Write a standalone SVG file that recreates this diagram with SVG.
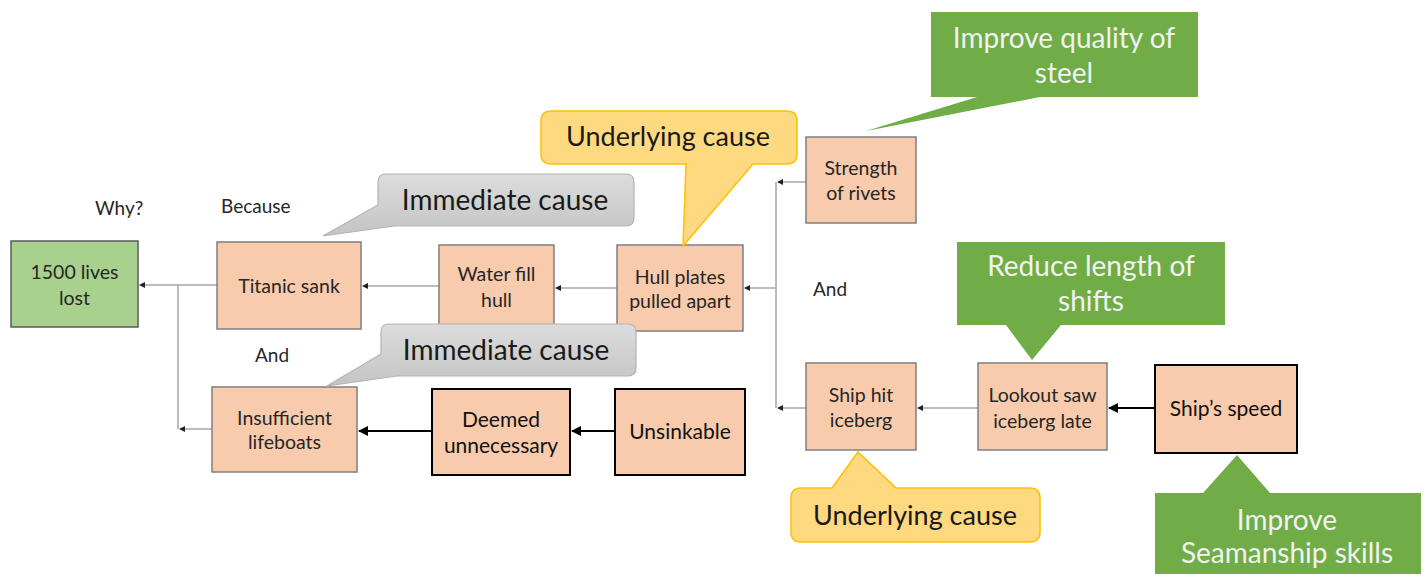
<svg xmlns="http://www.w3.org/2000/svg" width="1427" height="574" viewBox="0 0 1427 574">
<defs>
<style>
text{font-family:Lato,"Open Sans","Liberation Sans",sans-serif;text-anchor:middle;font-weight:normal}
.node{fill:#f8cbad;stroke:#7f7f7f;stroke-width:1.5}
.nodeb{fill:#f8cbad;stroke:#000;stroke-width:2}
.goal{fill:#a9d18e;stroke:#595959;stroke-width:1.5}
.nt{font-size:19.5px;fill:#262626}
.bt{font-size:21px;fill:#111}
.lbl{font-size:19px;fill:#262626;text-anchor:start}
.gc{fill:url(#gg);stroke:#b3b3b3;stroke-width:1.2}
.yc{fill:#ffd97f;stroke:#ffc000;stroke-width:1.5}
.grc{fill:#70ad47}
.ct{font-size:28px;fill:#1a1a1a}
.yt{font-size:27px;fill:#1a1a1a}
.wt{font-size:28px;fill:#f2f2f2}
.cg{fill:none;stroke:#a6a6a6;stroke-width:1.5}
.cb{fill:none;stroke:#000;stroke-width:2}
</style>
<linearGradient id="gg" x1="0" y1="0" x2="0" y2="1">
<stop offset="0" stop-color="#dcdcdc"/><stop offset="1" stop-color="#c4c4c4"/>
</linearGradient>
<marker id="ag" markerWidth="6" markerHeight="6" refX="5" refY="3" orient="auto" markerUnits="userSpaceOnUse">
<path d="M0,0 L6,3 L0,6 Z" fill="#222"/>
</marker>
<marker id="ab" markerWidth="10" markerHeight="10" refX="9" refY="5" orient="auto" markerUnits="userSpaceOnUse">
<path d="M0,0 L10,5 L0,10 Z" fill="#000"/>
</marker>
</defs>
<rect width="1427" height="574" fill="#fff"/>

<g id="connectors">
<path class="cg" d="M217,285 H140" marker-end="url(#ag)"/>
<path class="cg" d="M178,285 V429"/>
<path class="cg" d="M212,429 H180" marker-end="url(#ag)"/>
<path class="cg" d="M439,286 H363" marker-end="url(#ag)"/>
<path class="cg" d="M617,288 H556" marker-end="url(#ag)"/>
<path class="cg" d="M776,182 V408"/>
<path class="cg" d="M806,182 H778" marker-end="url(#ag)"/>
<path class="cg" d="M806,408 H778" marker-end="url(#ag)"/>
<path class="cg" d="M776,288 H745" marker-end="url(#ag)"/>
<path class="cg" d="M978,408 H918" marker-end="url(#ag)"/>
<path class="cb" d="M1155,408 H1109" marker-end="url(#ab)"/>
<path class="cb" d="M432,431 H359" marker-end="url(#ab)"/>
<path class="cb" d="M615,431 H572" marker-end="url(#ab)"/>
</g>

<g id="labels">
<text class="lbl" x="95" y="215">Why?</text>
<text class="lbl" x="221" y="213">Because</text>
<text class="lbl" x="255" y="362">And</text>
<text class="lbl" x="813" y="296">And</text>
</g>

<g id="n-lives"><rect class="goal" x="11" y="241" width="127" height="86"/>
<text class="nt" x="74.5" y="279">1500 lives</text><text class="nt" x="74.5" y="305">lost</text></g>
<g id="n-titanic"><rect class="node" x="217" y="242" width="144" height="87"/>
<text class="nt" x="289" y="293">Titanic sank</text></g>
<g id="n-water"><rect class="node" x="439" y="245" width="115" height="83"/>
<text class="nt" x="496.5" y="281">Water fill</text><text class="nt" x="496.5" y="307">hull</text></g>
<g id="n-hull"><rect class="node" x="617" y="245" width="126" height="86"/>
<text class="nt" x="680" y="284">Hull plates</text><text class="nt" x="680" y="308">pulled apart</text></g>
<g id="n-rivets"><rect class="node" x="806" y="137" width="110" height="86"/>
<text class="nt" x="861" y="175">Strength</text><text class="nt" x="861" y="200">of rivets</text></g>
<g id="n-iceberg"><rect class="node" x="806" y="363" width="110" height="87"/>
<text class="nt" x="861" y="402">Ship hit</text><text class="nt" x="861" y="427">iceberg</text></g>
<g id="n-lookout"><rect class="node" x="978" y="363" width="129" height="87"/>
<text class="nt" x="1042.5" y="402">Lookout saw</text><text class="nt" x="1042.5" y="428">iceberg late</text></g>
<g id="n-speed"><rect class="nodeb" x="1155" y="365" width="142" height="88"/>
<text class="bt" x="1226" y="416">Ship’s speed</text></g>
<g id="n-lifeboats"><rect class="node" x="212" y="387" width="145" height="85"/>
<text class="nt" x="284.5" y="425">Insufficient</text><text class="nt" x="284.5" y="449">lifeboats</text></g>
<g id="n-deemed"><rect class="nodeb" x="432" y="389" width="138" height="86"/>
<text class="bt" x="501" y="427">Deemed</text><text class="bt" x="501" y="453">unnecessary</text></g>
<g id="n-unsinkable"><rect class="nodeb" x="615" y="389" width="130" height="86"/>
<text class="bt" x="680" y="439">Unsinkable</text></g>

<g id="c-immediate1"><path class="gc" d="M386,174 H626 Q634,174 634,182 V218 Q634,226 626,226 H394 L323,236 L378,205 V182 Q378,174 386,174 Z"/>
<text class="ct" x="505" y="210">Immediate cause</text></g>
<g id="c-immediate2"><path class="gc" d="M389,324 H628 Q636,324 636,332 V368 Q636,376 628,376 H397 L327,386 L381,354 V332 Q381,324 389,324 Z"/>
<text class="ct" x="506" y="360">Immediate cause</text></g>
<g id="c-underlying1"><path class="yc" d="M551,111 H787 Q797,111 797,121 V154 Q797,164 787,164 H753 L683,246 L686,164 H551 Q541,164 541,154 V121 Q541,111 551,111 Z"/>
<text class="yt" x="668" y="146">Underlying cause</text></g>
<g id="c-underlying2"><path class="yc" d="M801,488 H832 L858,452 L896,488 H1030 Q1040,488 1040,498 V532 Q1040,542 1030,542 H801 Q791,542 791,532 V498 Q791,488 801,488 Z"/>
<text class="yt" x="915" y="525">Underlying cause</text></g>
<g id="c-steel"><path class="grc" d="M931,12 H1198 V97 H1040 L866,131 L977,97 H931 Z"/>
<text class="wt" x="1064" y="48">Improve quality of</text><text class="wt" x="1064" y="83">steel</text></g>
<g id="c-shifts"><path class="grc" d="M957,242 H1225 V325 H1061 L1032,360 L1006,325 H957 Z"/>
<text class="wt" x="1091" y="276">Reduce length of</text><text class="wt" x="1091" y="311">shifts</text></g>
<g id="c-seamanship"><path class="grc" d="M1155,493 H1203 L1237,455 L1270,493 H1421 V580 H1155 Z"/>
<text class="wt" x="1287" y="530">Improve</text><text class="wt" x="1287" y="563">Seamanship skills</text></g>
</svg>
